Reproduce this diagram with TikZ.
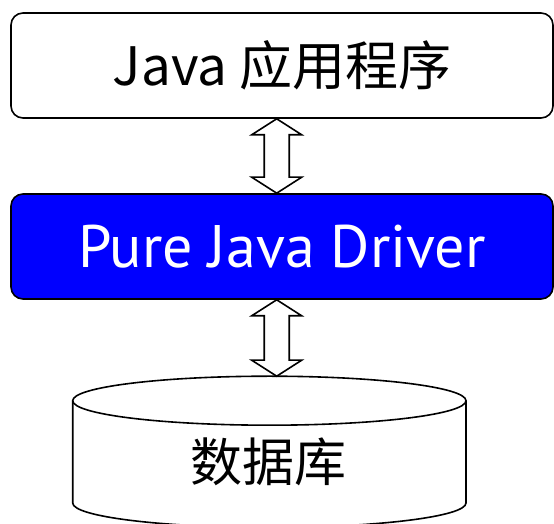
\documentclass[tikz,border=0pt]{standalone}
\usepackage{fontspec}
\setmainfont{PT Sans}
\newfontfamily\cjk{Noto Sans CJK SC}
\usetikzlibrary{calc}
\definecolor{drvblue}{RGB}{0,0,255}

% hollow two-headed arrow from #1 down to #2
\newcommand\updown[2]{%
  \draw[dbl] let \p1=(#1), \p2=(#2) in
    (\x1,\y1) -- ++(25pt,-16pt) -- ++(-12.5pt,0pt)
    -- (\x1+12.5pt,\y2+16pt) -- ++(12.5pt,0pt) -- (\x2,\y2)
    -- ++(-25pt,16pt) -- ++(12.5pt,0pt)
    -- (\x1-12.5pt,\y1-16pt) -- ++(-12.5pt,0pt) -- cycle;}

\begin{document}
\begin{tikzpicture}[x=1pt,y=1pt,
    box/.style={
      draw=black, line width=1.6pt,
      rounded corners=12pt, inner sep=0pt,
      minimum width=542pt, minimum height=105pt,
    },
    app/.style={box, fill=white, font=\cjk\fontsize{53}{60}\selectfont},
    drv/.style={box, fill=drvblue, text=white, font=\fontsize{60}{70}\selectfont},
    dbl/.style={draw=black, line width=1.6pt, fill=white, line join=miter},
    cyl/.style={draw=black, line width=1.6pt},
    dbtxt/.style={font=\cjk\fontsize{52}{60}\selectfont, inner sep=0pt},
  ]
  \useasboundingbox (0,0) rectangle (554,524);
  \clip (0,0) rectangle (554,524);

  \node[app] (app) at (282,458.5) {Java 应用程序};
  \node[drv] (drv) at (282,277.5) {Pure Java Driver};

  % database drum
  \draw[cyl] (72.7,123.3) -- (72.7,21)
    arc[start angle=180, end angle=360, x radius=196.65, y radius=24.5]
    -- (466,123.3);
  \draw[cyl] (269.35,123.3) ellipse [x radius=196.65, y radius=24.5];
  \coordinate (dbtop) at (269.35,147.8);
  \node[dbtxt] (db) at (268,62) {数据库};

  \coordinate (axis) at (276.7,0);
  \updown{app.south -| axis}{drv.north -| axis}
  \updown{drv.south -| axis}{dbtop -| axis}
\end{tikzpicture}
\end{document}
